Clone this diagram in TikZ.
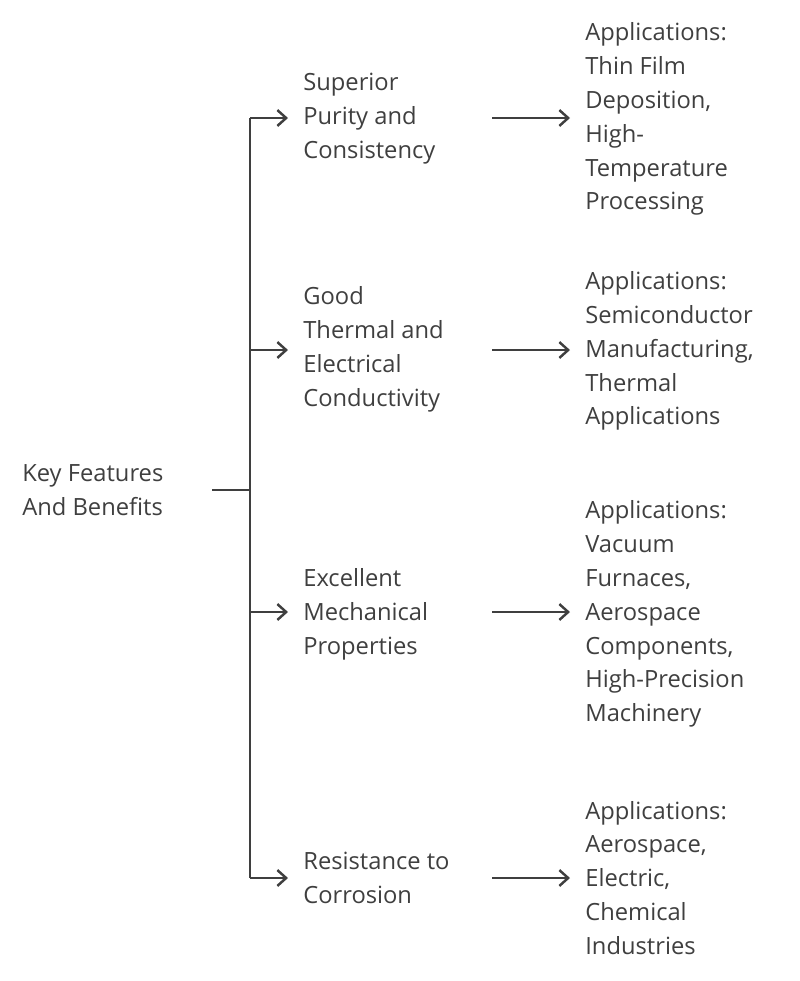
\documentclass[tikz,border=0pt]{standalone}
\usepackage{fontspec}
\setmainfont{Open Sans}
\usetikzlibrary{positioning,arrows.meta}
\definecolor{ink}{HTML}{3F3F3F}
\tikzset{
	lbl/.style={anchor=west,align=left,inner sep=0pt,text=ink,font=\fontsize{13.5}{19.3}\selectfont},
	edge/.style={color=ink,line width=1.4pt},
	diredge/.style={->,>={Straight Barb[width=9pt,length=5pt]},color=ink,line width=1.4pt}
}
\begin{document}
\begin{tikzpicture}[x=0.02cm,y=-0.02cm]
	\useasboundingbox (0,0) rectangle (800,981);
	%%%root
	\node[lbl] (root) at (22,490) {Key Features\\And Benefits};
	\coordinate (r) at (212,490);
	\coordinate (j) at (250,490);
	\coordinate (t1) at (250,118);
	\coordinate (t4) at (250,878);
	\draw[edge] (r) -- (j);
	\draw[edge] (t1) -- (t4);
	%%%features
	\node[lbl] (f1) at (303,119) {Superior\\Purity and\\Consistency};
	\node[lbl] (f2) at (303,349) {Good\\Thermal and\\Electrical\\Conductivity};
	\node[lbl] (f3) at (303,614) {Excellent\\Mechanical\\Properties};
	\node[lbl] (f4) at (303,878) {Resistance to\\Corrosion};
	%%%applications
	\node[lbl] (a1) at (585,119) {Applications:\\Thin Film\\Deposition,\\High-\\Temperature\\Processing};
	\node[lbl] (a2) at (585,351) {Applications:\\Semiconductor\\Manufacturing,\\Thermal\\Applications};
	\node[lbl] (a3) at (585,614) {Applications:\\Vacuum\\Furnaces,\\Aerospace\\Components,\\High-Precision\\Machinery};
	\node[lbl] (a4) at (585,878) {Applications:\\Aerospace,\\Electric,\\Chemical\\Industries};
	\foreach \y/\i in {118/1,350/2,612/3,878/4}{
		\draw[diredge] (250,\y) -- (288,\y);
		\draw[diredge] (492,\y) -- (570,\y);
	}
\end{tikzpicture}
\end{document}
